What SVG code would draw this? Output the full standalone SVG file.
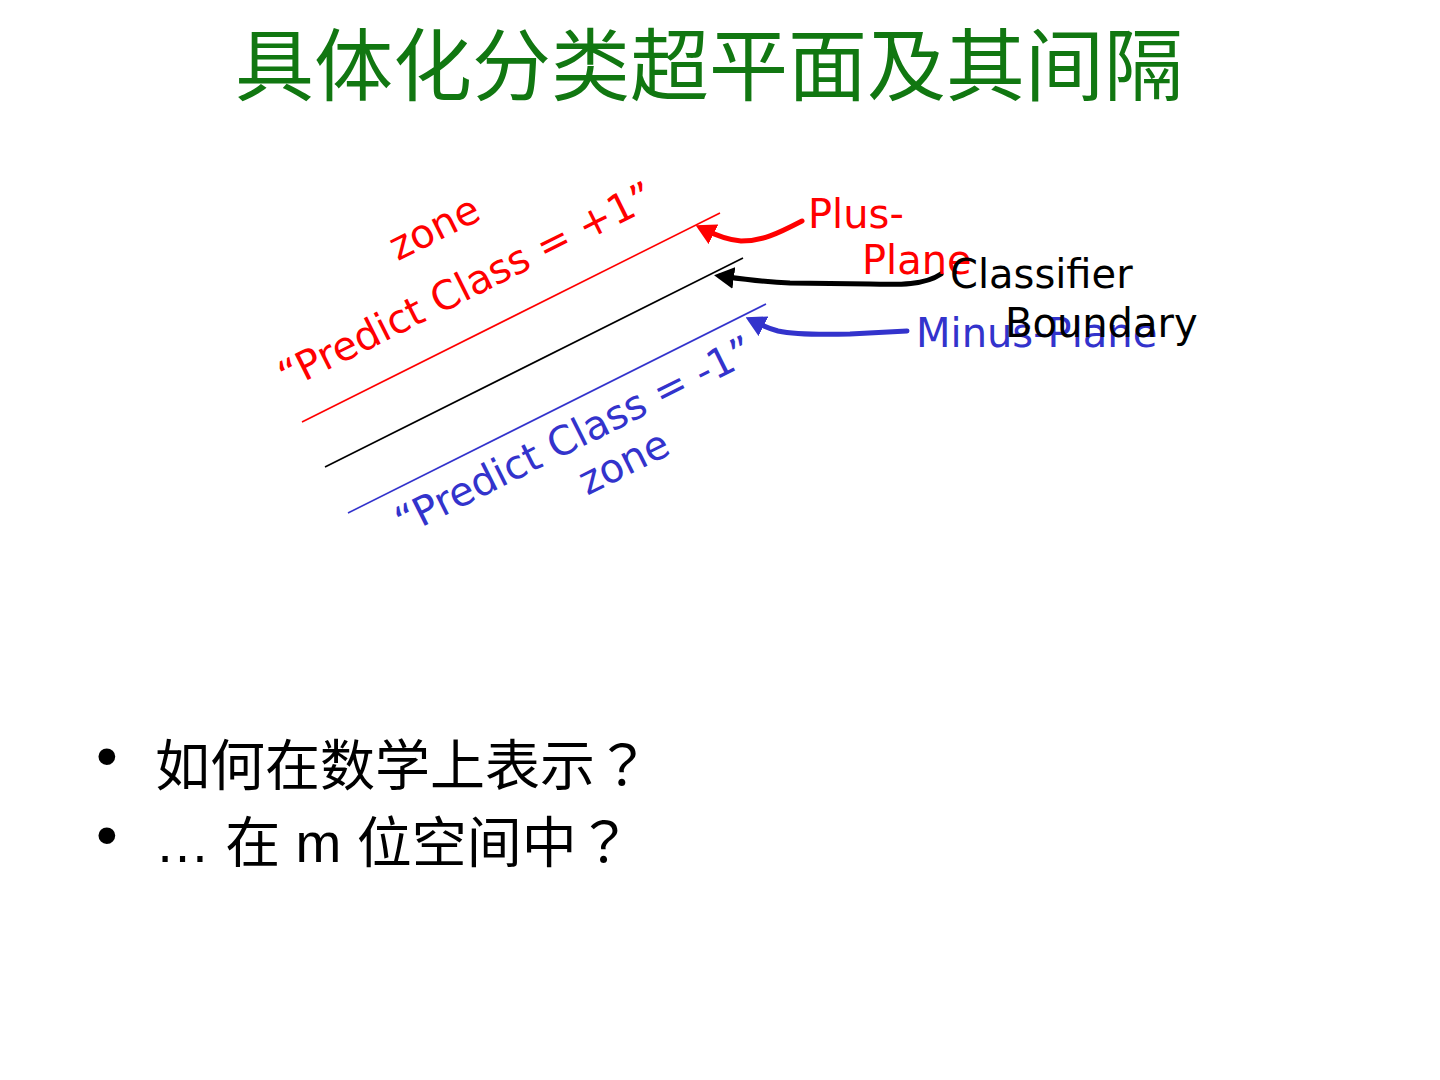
<svg xmlns="http://www.w3.org/2000/svg" width="1440" height="1080" viewBox="0 0 1440 1080">
  <style>
    .title { font-family: "Noto Sans CJK SC", sans-serif; font-size: 79px; fill: #117711; }
    .lbl { font-family: "DejaVu Sans", sans-serif; font-size: 40px; }
    .red { fill: #ff0000; }
    .blue { fill: #3333cc; }
    .black { fill: #000000; }
    .bul { font-family: "Liberation Sans", "Noto Sans CJK SC", sans-serif; font-size: 55px; fill: #000000; }
    .q { font-family: "Noto Sans CJK TC", sans-serif; }
    .dot { font-family: "Liberation Sans", sans-serif; font-size: 62px; fill: #000000; }
    .plane { stroke-width: 1.6; fill: none; }
    .arr { stroke-width: 5; fill: none; stroke-linecap: round; }
  </style>
  <defs>
    <marker id="hRed" markerUnits="userSpaceOnUse" viewBox="0 0 20 22" markerWidth="20" markerHeight="22" refX="14" refY="11" orient="auto">
      <path d="M0,0 L20,11 L0,22 z" fill="#ff0000"/>
    </marker>
    <marker id="hBlack" markerUnits="userSpaceOnUse" viewBox="0 0 20 22" markerWidth="20" markerHeight="22" refX="14" refY="11" orient="auto">
      <path d="M0,0 L20,11 L0,22 z" fill="#000000"/>
    </marker>
    <marker id="hBlue" markerUnits="userSpaceOnUse" viewBox="0 0 20 22" markerWidth="20" markerHeight="22" refX="14" refY="11" orient="auto">
      <path d="M0,0 L20,11 L0,22 z" fill="#3333cc"/>
    </marker>
  </defs>
  <rect width="1440" height="1080" fill="#ffffff"/>

  <g id="title">
    <text class="title" x="709" y="95" text-anchor="middle">具体化分类超平面及其间隔</text>
  </g>

  <g id="planes">
    <line id="plus-plane-line" class="plane" x1="302" y1="422" x2="720" y2="213" stroke="#ff0000"/>
    <line id="boundary-line" class="plane" x1="325" y1="467" x2="743" y2="258" stroke="#000000"/>
    <line id="minus-plane-line" class="plane" x1="348" y1="513" x2="766" y2="304" stroke="#3333cc"/>
  </g>

  <g id="plus-zone-label">
    <text class="lbl red" transform="translate(472,298) rotate(-26.565)" text-anchor="middle">
      <tspan x="4" y="-66">zone</tspan>
      <tspan x="0" y="0">“Predict Class = +1”</tspan>
    </text>
  </g>

  <g id="minus-zone-label">
    <text class="lbl blue" transform="translate(586,445) rotate(-26.565)" text-anchor="middle">
      <tspan x="0" y="0">“Predict Class = -1”</tspan>
      <tspan x="26" y="46">zone</tspan>
    </text>
  </g>

  <g id="connectors">
    <path class="arr" stroke="#ff0000" marker-end="url(#hRed)" d="M802,221 C777,234 762,241 741,241 C726,240 713,234 701,228"/>
    <path class="arr" stroke="#000000" marker-end="url(#hBlack)" d="M941,274 C925,285 900,285 870,284 L790,283 C762,282 742,279 720,276"/>
    <path class="arr" stroke="#3333cc" marker-end="url(#hBlue)" d="M907,331 L850,334 C812,335 792,334 778,331 C767,328 759,324 751,320"/>
  </g>

  <g id="plus-plane-label">
    <text class="lbl red"><tspan x="808" y="228">Plus-</tspan><tspan x="862" y="274">Plane</tspan></text>
  </g>

  <g id="minus-plane-label">
    <text class="lbl blue" x="916" y="347">Minus-Plane</text>
  </g>

  <g id="classifier-boundary-label">
    <text class="lbl black"><tspan x="950" y="288">Classifier</tspan><tspan x="1005" y="337">Boundary</tspan></text>
  </g>

  <g id="bullets">
    <text class="dot" x="96" y="777">•</text>
    <text class="bul" x="155" y="785">如何在数学上表示<tspan class="q">？</tspan></text>
    <text class="dot" x="96" y="856">•</text>
    <text class="bul" x="155" y="862">… 在 m 位空间中<tspan class="q">？</tspan></text>
  </g>
</svg>
